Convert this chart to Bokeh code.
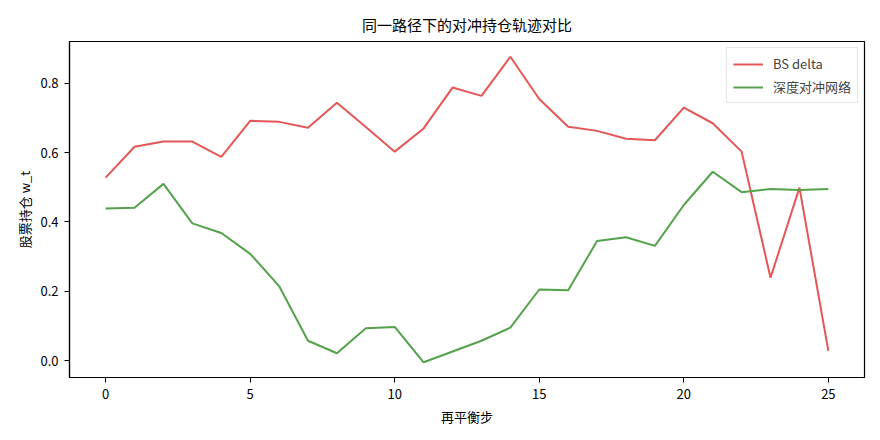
from bokeh.plotting import figure
from bokeh.models import FixedTicker, Legend, LegendItem, Range1d, NumeralTickFormatter
from bokeh.embed import file_html
from bokeh.resources import INLINE

steps = list(range(26))
bs_delta = [0.528, 0.617, 0.632, 0.632, 0.588, 0.692, 0.689, 0.672, 0.744, 0.674,
            0.603, 0.670, 0.788, 0.764, 0.877, 0.755, 0.675, 0.663, 0.640, 0.636,
            0.730, 0.685, 0.603, 0.239, 0.499, 0.028]
deep_hedge = [0.439, 0.441, 0.510, 0.396, 0.368, 0.308, 0.215, 0.057, 0.021, 0.093,
              0.097, -0.005, 0.026, 0.057, 0.095, 0.205, 0.203, 0.345, 0.356, 0.331,
              0.449, 0.545, 0.486, 0.495, 0.492, 0.495]
x_ticks = [0, 5, 10, 15, 20, 25]
y_ticks = [0.0, 0.2, 0.4, 0.6, 0.8]
title_text = "同一路径下的对冲持仓轨迹对比"
x_label = "再平衡步"
y_label = "股票持仓 w_t"
series_names = ["BS delta", "深度对冲网络"]

FONT = "Noto Sans CJK SC"

p = figure(width=880, height=440, output_backend="svg", toolbar_location=None,
           x_range=Range1d(-1.25, 26.25), y_range=Range1d(-0.049, 0.921),
           min_border_left=69, min_border_right=16, min_border_top=41, min_border_bottom=63)

p.title.text = title_text
p.title.align = "center"
p.title.text_font = FONT
p.title.text_font_size = "15px"
p.title.text_font_style = "normal"
p.title.text_color = "#000000"
p.title.offset = 0
p.title.standoff = 14

r1 = p.line(steps, bs_delta, line_color="#e45756", line_width=2)
r2 = p.line(steps, deep_hedge, line_color="#54a24b", line_width=2)

p.xgrid.visible = False
p.ygrid.visible = False
p.outline_line_color = "black"
p.outline_line_width = 1.2
p.outline_line_alpha = 1.0

for ax in (p.xaxis[0], p.yaxis[0]):
    ax.axis_line_color = "black"
    ax.axis_line_width = 1.2
    ax.major_tick_line_color = "black"
    ax.major_tick_line_width = 1
    ax.major_tick_in = 0
    ax.major_tick_out = 5
    ax.minor_tick_line_color = None
    ax.major_label_text_font = FONT
    ax.major_label_text_font_size = "13px"
    ax.major_label_text_color = "black"
    ax.axis_label_text_font = FONT
    ax.axis_label_text_font_size = "13px"
    ax.axis_label_text_font_style = "normal"
    ax.axis_label_text_color = "black"

p.xaxis[0].ticker = FixedTicker(ticks=x_ticks)
p.yaxis[0].ticker = FixedTicker(ticks=y_ticks)
p.yaxis[0].formatter = NumeralTickFormatter(format="0.0")
p.xaxis[0].axis_label = x_label
p.yaxis[0].axis_label = y_label
p.xaxis[0].major_label_standoff = 6
p.yaxis[0].major_label_standoff = 6
p.xaxis[0].axis_label_standoff = 5
p.yaxis[0].axis_label_standoff = 3

legend = Legend(items=[LegendItem(label=series_names[0], renderers=[r1]),
                       LegendItem(label=series_names[1], renderers=[r2])],
                location="top_right")
legend.label_text_font = FONT
legend.label_text_font_size = "13px"
legend.border_line_color = "#cccccc"
legend.border_line_width = 1
legend.background_fill_alpha = 0.9
legend.glyph_width = 30
legend.glyph_height = 14
legend.label_standoff = 10
legend.spacing = 4
legend.padding = 6
legend.margin = 6
p.add_layout(legend)

open("out.html", "w").write(file_html(p, INLINE))
